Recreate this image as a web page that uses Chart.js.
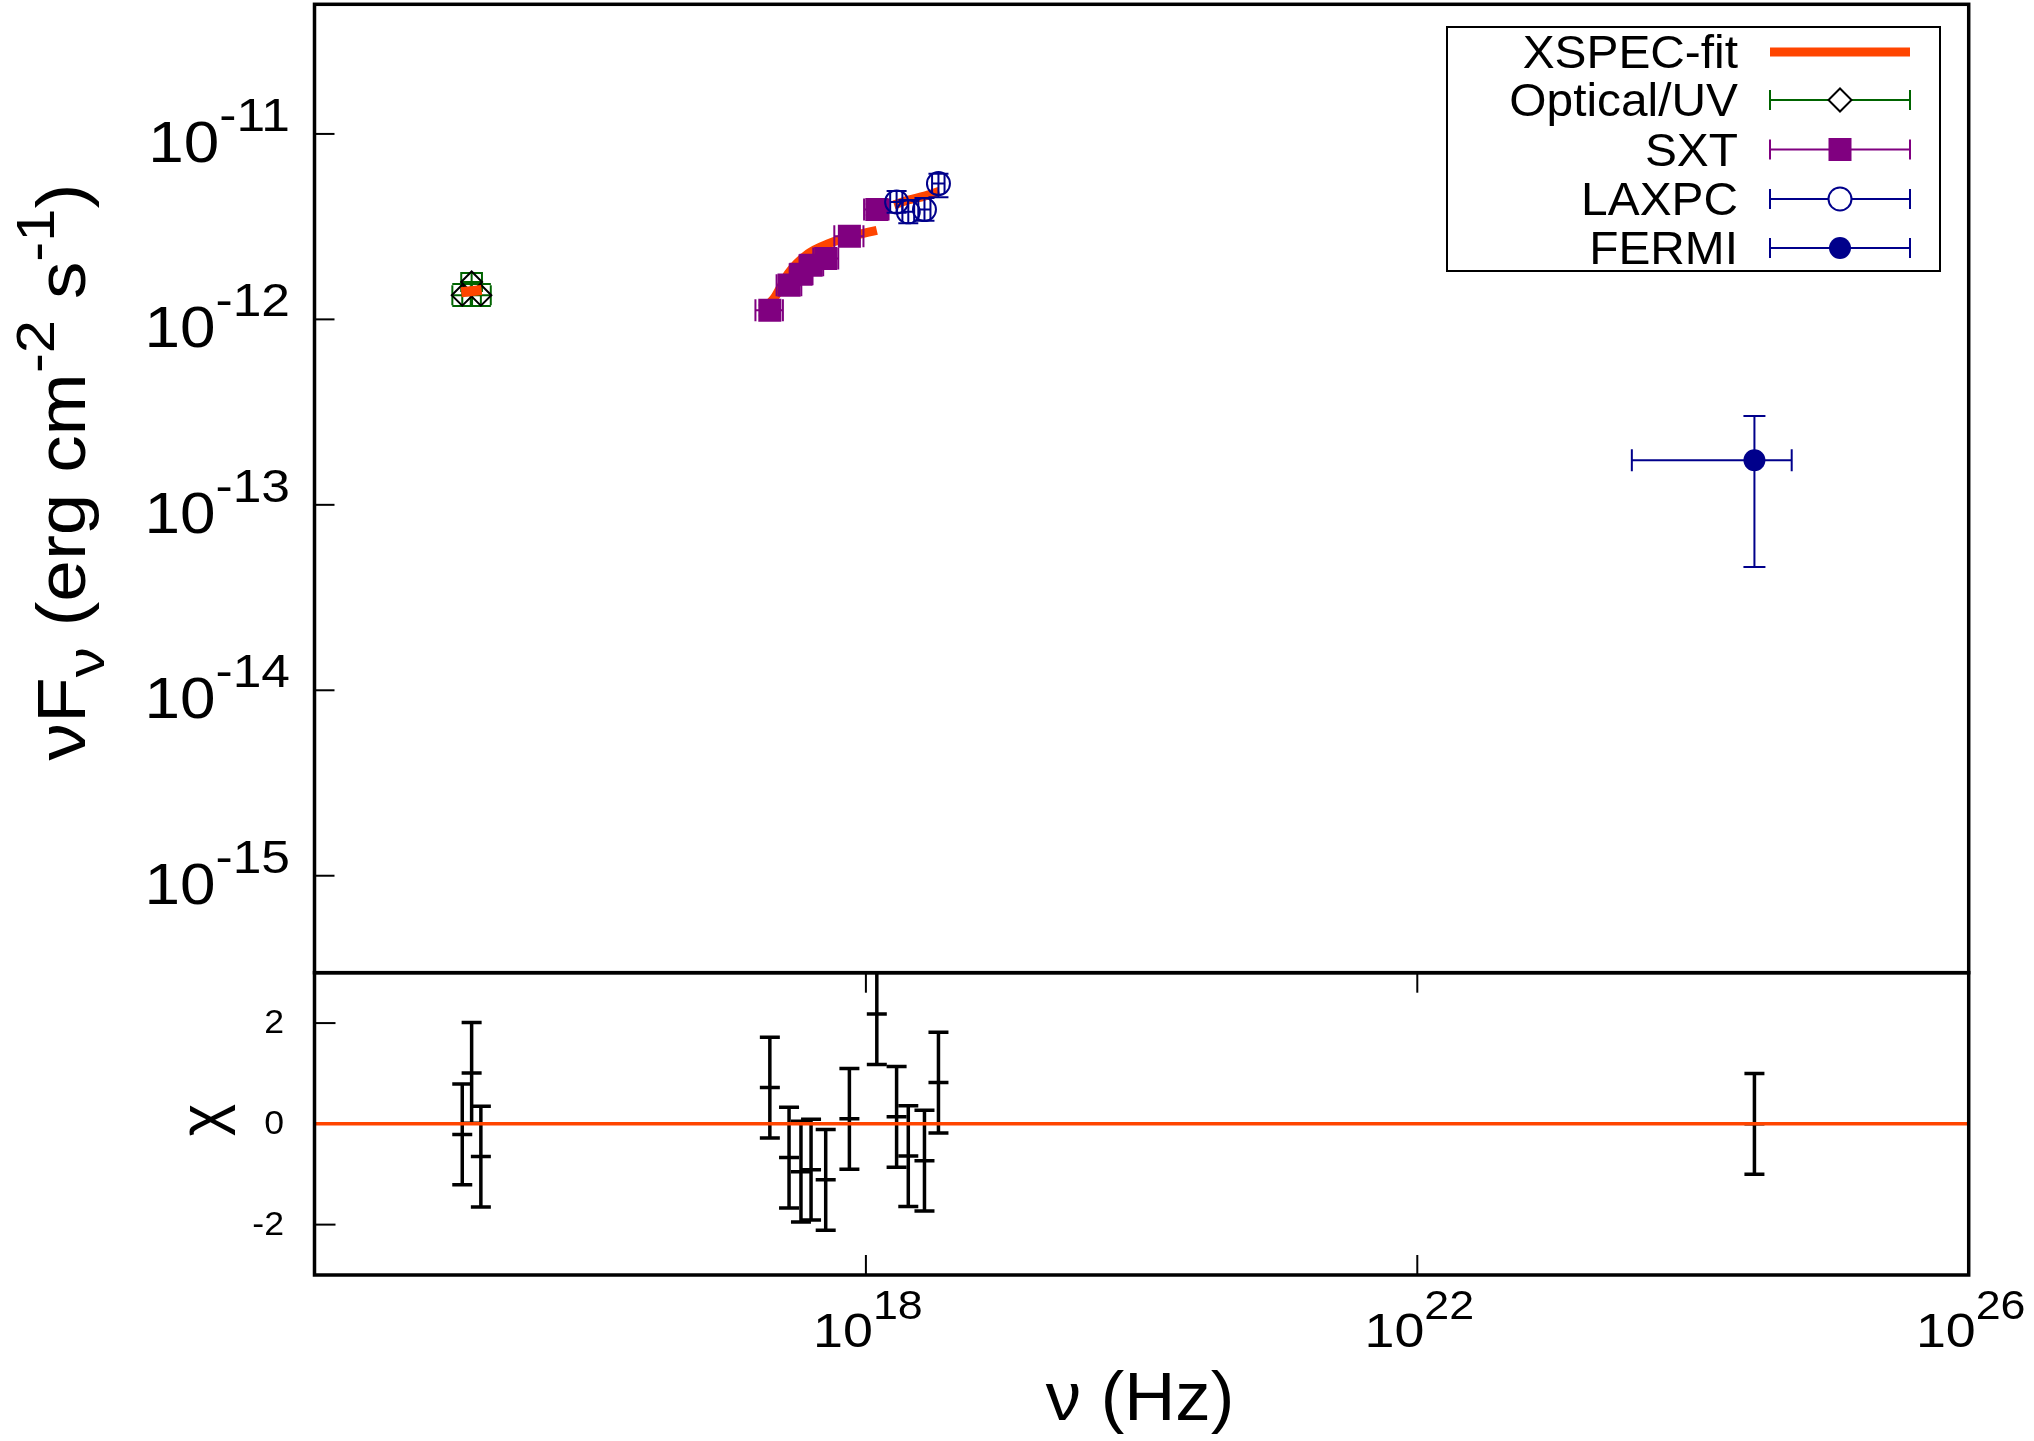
<!DOCTYPE html>
<html>
<head>
<meta charset="utf-8">
<script src="https://cdn.jsdelivr.net/npm/chart.js@4.4.1/dist/chart.umd.min.js"></script>
<style>
  html, body { margin: 0; padding: 0; background: #fff; overflow: hidden; }
  #wrap { position: relative; width: 2034px; height: 1441px; }
  canvas { position: absolute; left: 0; top: 0; }
</style>
</head>
<body>
<div id="wrap">
  <canvas id="sed" width="2034" height="1441"></canvas>
  <canvas id="resid" width="2034" height="1441"></canvas>
</div>
<script>
// ---- data ----
const uvNu = [1.18e15, 1.38e15, 1.61e15];
const uvNuLo = [1.00e15, 1.16e15, 1.36e15];
const uvNuHi = [1.39e15, 1.64e15, 1.90e15];
const uvFlux = [1.35e-12, 1.59e-12, 1.35e-12];
const uvFluxLo = [1.18e-12, 1.42e-12, 1.18e-12];
const uvFluxHi = [1.55e-12, 1.78e-12, 1.55e-12];

const sxtNu = [2.01e17, 2.77e17, 3.38e17, 4.0e17, 5.11e17, 7.59e17, 1.20e18];
const sxtNuLo = [1.58e17, 2.25e17, 2.80e17, 3.30e17, 4.15e17, 5.90e17, 9.7e17];
const sxtNuHi = [2.50e17, 3.40e17, 4.10e17, 4.90e17, 6.30e17, 9.6e17, 1.46e18];
const sxtFlux = [1.12e-12, 1.53e-12, 1.75e-12, 1.96e-12, 2.13e-12, 2.81e-12, 3.91e-12];
const sxtFluxLo = [1.05e-12, 1.44e-12, 1.66e-12, 1.86e-12, 2.02e-12, 2.66e-12, 3.65e-12];
const sxtFluxHi = [1.19e-12, 1.62e-12, 1.84e-12, 2.06e-12, 2.24e-12, 2.96e-12, 4.17e-12];

const laxNu = [1.67e18, 2.03e18, 2.66e18, 3.36e18];
const laxNuLo = [1.50e18, 1.84e18, 2.40e18, 3.02e18];
const laxNuHi = [1.84e18, 2.24e18, 2.94e18, 3.72e18];
const laxFlux = [4.30e-12, 3.80e-12, 3.91e-12, 5.40e-12];
const laxFluxLo = [3.76e-12, 3.30e-12, 3.40e-12, 4.55e-12];
const laxFluxHi = [4.92e-12, 4.40e-12, 4.52e-12, 6.10e-12];

const fermiNu = [2.79e24];
const fermiNuLo = [3.6e23];
const fermiNuHi = [5.2e24];
const fermiFlux = [1.74e-13];
const fermiFluxLo = [4.62e-14];
const fermiFluxHi = [3.01e-13];

// XSPEC model, one piece per instrument
const fitUvNu = [1.16e15, 1.63e15];
const fitUvFlux = [1.40e-12, 1.44e-12];
const fitSxtNu = [2.0e17, 2.19e17, 2.74e17, 3.82e17, 5.35e17, 7.9e17, 1.2e18];
const fitSxtFlux = [1.22e-12, 1.32e-12, 1.77e-12, 2.26e-12, 2.56e-12, 2.81e-12, 3.02e-12];
const fitLaxNu = [1.6e18, 2.03e18, 2.66e18, 3.4e18];
const fitLaxFlux = [4.15e-12, 4.40e-12, 4.62e-12, 4.90e-12];

// residuals (chi) in the same order: UV, SXT, LAXPC, FERMI
const resNu = [1.18e15, 1.38e15, 1.61e15,
  2.01e17, 2.77e17, 3.38e17, 4.0e17, 5.11e17, 7.59e17, 1.20e18,
  1.67e18, 2.03e18, 2.66e18, 3.36e18,
  2.79e24];
const resChi = [-0.21, 1.01, -0.65,
  0.72, -0.67, -0.95, -0.91, -1.11, 0.10, 2.18,
  0.14, -0.64, -0.73, 0.82,
  0.0];
const resErr = [1, 1, 1, 1, 1, 1, 1, 1, 1, 1, 1, 1, 1, 1, 1];

const nuTicks = [1e18, 1e22, 1e26];
const nuTickExp = ['18', '22', '26'];
const fluxTicks = [1e-11, 1e-12, 1e-13, 1e-14, 1e-15];
const fluxTickExp = ['-11', '-12', '-13', '-14', '-15'];
const chiTicks = [2, 0, -2];

const FONT = '"Liberation Sans", Arial, Helvetica, sans-serif';
const FIT = '#ff4500';
const GREEN = '#006400';
const PURPLE = '#800080';
const BLUE = '#00008b';

const pts = (xs, ys) => xs.map((x, i) => ({ x: x, y: ys[i] }));

function fnt(size) {
  return size + 'px ' + FONT;
}

// "10" with a raised exponent; sx stretches glyphs horizontally
function powLabel(ctx, base, exp, x, y, size, supSize, rise, align, sx) {
  ctx.font = fnt(size);
  const wb = ctx.measureText(base).width * sx;
  ctx.font = fnt(supSize);
  const we = ctx.measureText(exp).width * sx;
  let left = x;
  if (align === 'right') left = x - wb - we;
  if (align === 'center') left = x - (wb + we) / 2;
  ctx.save();
  ctx.textAlign = 'left';
  ctx.textBaseline = 'alphabetic';
  ctx.translate(left, y);
  ctx.scale(sx, 1);
  ctx.font = fnt(size);
  ctx.fillText(base, 0, 0);
  ctx.font = fnt(supSize);
  ctx.fillText(exp, wb / sx, -rise);
  ctx.restore();
}

// parts: [text, scale, shift in em (positive = down)], centred on the origin
function richText(ctx, parts, size, sx) {
  let total = 0;
  parts.forEach(p => {
    ctx.font = fnt(size * p[1]);
    total += ctx.measureText(p[0]).width;
  });
  ctx.save();
  ctx.scale(sx, 1);
  let x = -total / 2;
  ctx.textAlign = 'left';
  ctx.textBaseline = 'alphabetic';
  parts.forEach(p => {
    ctx.font = fnt(size * p[1]);
    ctx.fillText(p[0], x, p[2] * size);
    x += ctx.measureText(p[0]).width;
  });
  ctx.restore();
}

function seg(ctx, x0, y0, x1, y1) {
  ctx.beginPath();
  ctx.moveTo(x0, y0);
  ctx.lineTo(x1, y1);
  ctx.stroke();
}

const errorBars = {
  id: 'errorBars',
  beforeDatasetDraw(chart, args) {
    const ds = chart.data.datasets[args.index];
    const e = ds.errors;
    if (!e) return;
    const { ctx, chartArea } = chart;
    const xs = chart.scales.x;
    const ys = chart.scales.y;
    ctx.save();
    ctx.beginPath();
    ctx.rect(chartArea.left, chartArea.top, chartArea.right - chartArea.left, chartArea.bottom - chartArea.top);
    ctx.clip();
    ctx.strokeStyle = e.color;
    ctx.lineWidth = e.width;
    ds.data.forEach((p, i) => {
      const px = xs.getPixelForValue(p.x);
      const py = ys.getPixelForValue(p.y);
      if (e.xLo) {
        const x0 = xs.getPixelForValue(e.xLo[i]);
        const x1 = xs.getPixelForValue(e.xHi[i]);
        seg(ctx, x0, py, x1, py);
        seg(ctx, x0, py - e.cap, x0, py + e.cap);
        seg(ctx, x1, py - e.cap, x1, py + e.cap);
      }
      if (e.yLo) {
        const y0 = ys.getPixelForValue(e.yLo[i]);
        const y1 = ys.getPixelForValue(e.yHi[i]);
        seg(ctx, px, y0, px, y1);
        seg(ctx, px - e.cap, y0, px + e.cap, y0);
        seg(ctx, px - e.cap, y1, px + e.cap, y1);
      }
      if (e.mid) seg(ctx, px - e.cap, py, px + e.cap, py);
    });
    ctx.restore();
  }
};

const sedDecor = {
  id: 'sedDecor',
  afterDraw(chart) {
    const { ctx, chartArea: a } = chart;
    const ys = chart.scales.y;
    ctx.save();
    ctx.strokeStyle = '#000';
    ctx.fillStyle = '#000';

    ctx.lineWidth = 2;
    fluxTicks.forEach((v, i) => {
      const y = ys.getPixelForValue(v);
      seg(ctx, a.left, y, a.left + 20, y);
      powLabel(ctx, '10', fluxTickExp[i], 290, y + 28, 57, 46, 31, 'right', 1.12);
    });

    ctx.lineWidth = 3.5;
    ctx.strokeRect(a.left, a.top, a.right - a.left, a.bottom - a.top);

    // y title
    ctx.save();
    ctx.translate(85, 472);
    ctx.rotate(-Math.PI / 2);
    richText(ctx, [['\u03bdF', 1, 0], ['\u03bd', 0.8, 0.28], [' (erg cm', 1, 0], ['-2', 0.8, -0.45],
      [' s', 1, 0], ['-1', 0.8, -0.45], [')', 1, 0]], 68, 1.1);
    ctx.restore();

    // legend
    const bx = 1447, by = 27, bw = 493, bh = 244;
    ctx.fillStyle = '#fff';
    ctx.fillRect(bx, by, bw, bh);
    ctx.lineWidth = 2;
    ctx.strokeStyle = '#000';
    ctx.strokeRect(bx, by, bw, bh);
    const rows = [
      { label: 'XSPEC-fit', kind: 'fit' },
      { label: 'Optical/UV', kind: 'diamond', color: GREEN },
      { label: 'SXT', kind: 'square', color: PURPLE },
      { label: 'LAXPC', kind: 'ring', color: BLUE },
      { label: 'FERMI', kind: 'dot', color: BLUE }
    ];
    const rowY = [52, 100, 149.5, 199, 248];
    const x0 = 1770, x1 = 1910, xm = 1840;
    rows.forEach((r, i) => {
      const y = rowY[i];
      ctx.fillStyle = '#000';
      ctx.save();
      ctx.translate(1738, y + 16);
      ctx.scale(1.04, 1);
      ctx.font = fnt(46);
      ctx.textAlign = 'right';
      ctx.textBaseline = 'alphabetic';
      ctx.fillText(r.label, 0, 0);
      ctx.restore();
      if (r.kind === 'fit') {
        ctx.strokeStyle = FIT;
        ctx.lineWidth = 9;
        seg(ctx, x0, y, x1, y);
        return;
      }
      ctx.strokeStyle = r.color;
      ctx.lineWidth = 2;
      seg(ctx, x0, y, x1, y);
      seg(ctx, x0, y - 10, x0, y + 10);
      seg(ctx, x1, y - 10, x1, y + 10);
      ctx.beginPath();
      if (r.kind === 'diamond') {
        ctx.moveTo(xm - 11.5, y);
        ctx.lineTo(xm, y - 11.5);
        ctx.lineTo(xm + 11.5, y);
        ctx.lineTo(xm, y + 11.5);
        ctx.closePath();
        ctx.fillStyle = '#fff';
        ctx.fill();
        ctx.strokeStyle = '#000';
        ctx.stroke();
      } else if (r.kind === 'square') {
        ctx.fillStyle = r.color;
        ctx.fillRect(xm - 11.5, y - 11.5, 23, 23);
      } else if (r.kind === 'ring') {
        ctx.arc(xm, y, 11.5, 0, Math.PI * 2);
        ctx.fillStyle = '#fff';
        ctx.fill();
        ctx.stroke();
      } else {
        ctx.arc(xm, y, 11, 0, Math.PI * 2);
        ctx.fillStyle = r.color;
        ctx.fill();
      }
    });
    ctx.restore();
  }
};

const residDecor = {
  id: 'residDecor',
  afterDraw(chart) {
    const { ctx, chartArea: a } = chart;
    const xs = chart.scales.x;
    const ys = chart.scales.y;
    ctx.save();
    ctx.strokeStyle = '#000';
    ctx.fillStyle = '#000';
    ctx.lineWidth = 2;

    nuTicks.forEach((v, i) => {
      const x = xs.getPixelForValue(v);
      if (x < a.right - 2) {
        seg(ctx, x, a.top, x, a.top + 20);
        seg(ctx, x, a.bottom, x, a.bottom - 20);
      }
      powLabel(ctx, '10', nuTickExp[i], x + 2, 1347, 48, 40, 28, 'center', 1.12);
    });

    chiTicks.forEach(v => {
      const y = ys.getPixelForValue(v);
      // the zero line covers its own tick
      if (v !== 0) seg(ctx, a.left, y, a.left + 21, y);
      ctx.save();
      ctx.translate(284, y + 1);
      ctx.scale(1.08, 1);
      ctx.font = fnt(33);
      ctx.textAlign = 'right';
      ctx.textBaseline = 'middle';
      ctx.fillText(String(v), 0, 0);
      ctx.restore();
    });

    ctx.lineWidth = 3.5;
    ctx.strokeRect(a.left, a.top, a.right - a.left, a.bottom - a.top);

    // axis titles
    ctx.save();
    ctx.translate(1140, 1420);
    richText(ctx, [['\u03bd (Hz)', 1, 0]], 68, 1.04);
    ctx.restore();

    ctx.save();
    ctx.translate(222, 1120);
    ctx.rotate(-Math.PI / 2);
    richText(ctx, [['\u03c7', 1, 0]], 62, 1);
    ctx.restore();

    ctx.restore();
  }
};

new Chart(document.getElementById('sed'), {
  type: 'scatter',
  data: {
    datasets: [
      {
        label: 'XSPEC-fit',
        data: pts(fitUvNu, fitUvFlux),
        showLine: true, borderColor: FIT, borderWidth: 10, pointRadius: 0,
        order: 0
      },
      {
        label: 'XSPEC-fit',
        data: pts(fitSxtNu, fitSxtFlux),
        showLine: true, borderColor: FIT, borderWidth: 9, pointRadius: 0,
        cubicInterpolationMode: 'monotone',
        order: 6
      },
      {
        label: 'XSPEC-fit',
        data: pts(fitLaxNu, fitLaxFlux),
        showLine: true, borderColor: FIT, borderWidth: 9, pointRadius: 0,
        cubicInterpolationMode: 'monotone',
        order: 5
      },
      {
        label: 'Optical/UV',
        data: pts(uvNu, uvFlux),
        pointStyle: 'rectRot', pointRadius: 10.5, borderWidth: 2,
        borderColor: '#000', backgroundColor: 'rgba(0,0,0,0)',
        errors: { xLo: uvNuLo, xHi: uvNuHi, yLo: uvFluxLo, yHi: uvFluxHi, color: GREEN, width: 2, cap: 10 },
        order: 4
      },
      {
        label: 'SXT',
        data: pts(sxtNu, sxtFlux),
        pointStyle: 'rect', pointRadius: 16.3, borderWidth: 0,
        borderColor: PURPLE, backgroundColor: PURPLE,
        errors: { xLo: sxtNuLo, xHi: sxtNuHi, yLo: sxtFluxLo, yHi: sxtFluxHi, color: PURPLE, width: 2, cap: 11 },
        order: 3
      },
      {
        label: 'LAXPC',
        data: pts(laxNu, laxFlux),
        pointStyle: 'circle', pointRadius: 11.5, borderWidth: 2,
        borderColor: BLUE, backgroundColor: 'rgba(0,0,0,0)',
        errors: { xLo: laxNuLo, xHi: laxNuHi, yLo: laxFluxLo, yHi: laxFluxHi, color: BLUE, width: 2, cap: 10 },
        order: 2
      },
      {
        label: 'FERMI',
        data: pts(fermiNu, fermiFlux),
        pointStyle: 'circle', pointRadius: 11, borderWidth: 0,
        borderColor: BLUE, backgroundColor: BLUE,
        errors: { xLo: fermiNuLo, xHi: fermiNuHi, yLo: fermiFluxLo, yHi: fermiFluxHi, color: BLUE, width: 2, cap: 11 },
        order: 1
      }
    ]
  },
  options: {
    responsive: false,
    animation: false,
    devicePixelRatio: 1,
    layout: { autoPadding: false, padding: { left: 314.5, top: 4.3, right: 65.3, bottom: 468.3 } },
    scales: {
      x: { type: 'logarithmic', min: 1e14, max: 1e26, display: false },
      y: { type: 'logarithmic', min: 3e-16, max: 5e-11, display: false }
    },
    plugins: { legend: { display: false }, tooltip: { enabled: false } }
  },
  plugins: [errorBars, sedDecor]
});

new Chart(document.getElementById('resid'), {
  type: 'scatter',
  data: {
    datasets: [
      {
        label: 'zero',
        data: pts([1e14, 1e26], [0, 0]),
        showLine: true, borderColor: FIT, borderWidth: 3.5, pointRadius: 0,
        order: 1
      },
      {
        label: 'chi',
        data: pts(resNu, resChi),
        pointRadius: 0,
        errors: {
          yLo: resChi.map((c, i) => c - resErr[i]),
          yHi: resChi.map((c, i) => c + resErr[i]),
          mid: true, color: '#000', width: 3.5, cap: 10
        },
        order: 2
      }
    ]
  },
  options: {
    responsive: false,
    animation: false,
    devicePixelRatio: 1,
    layout: { autoPadding: false, padding: { left: 314.5, top: 972.7, right: 65.3, bottom: 166 } },
    scales: {
      x: { type: 'logarithmic', min: 1e14, max: 1e26, display: false },
      y: { type: 'linear', min: -3, max: 3, display: false }
    },
    plugins: { legend: { display: false }, tooltip: { enabled: false } }
  },
  plugins: [errorBars, residDecor]
});
</script>
</body>
</html>
